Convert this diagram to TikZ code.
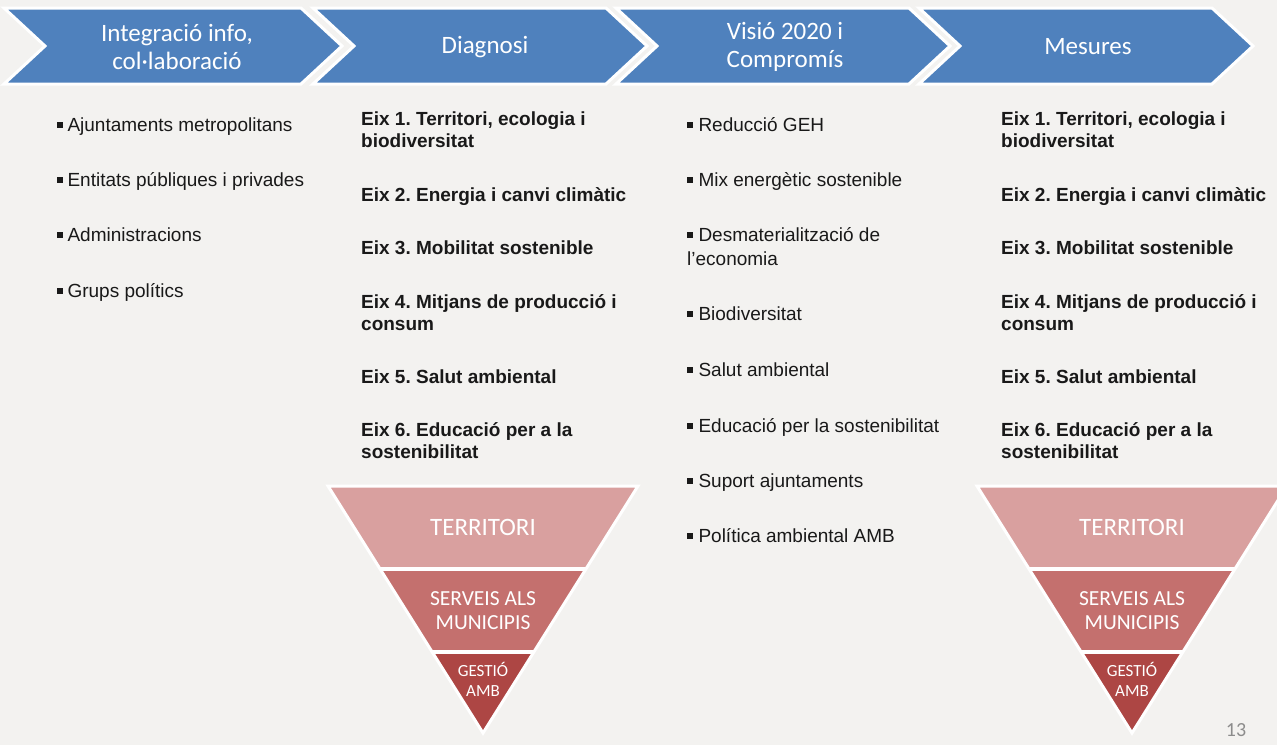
\documentclass[tikz,border=0pt]{standalone}
\usepackage{fontspec}
\setmainfont{Liberation Sans}
\newfontfamily\calfont{Carlito}
\definecolor{bg}{HTML}{F3F2F0}
\definecolor{chev}{HTML}{4F81BD}
\definecolor{tA}{HTML}{D9A09F}
\definecolor{tB}{HTML}{C4706E}
\definecolor{tC}{HTML}{AD4644}
\definecolor{pnum}{HTML}{8C8C8C}
\newcommand\sqb{\rule[0.17em]{0.28em}{0.28em}}
\frenchspacing
\begin{document}
\begin{tikzpicture}[x=1pt,y=-1pt,
  chevshape/.style={fill=chev,draw=white,line width=3pt,line join=miter},
  chevtext/.style={text=white,font=\calfont\fontsize{25}{28}\selectfont,align=center,inner sep=0pt},
  itemtext/.style={anchor=base west,inner sep=0pt,font=\fontsize{19}{22}\selectfont,text=black!90},
  eixtext/.style={anchor=base west,inner sep=0pt,font=\bfseries\fontsize{19}{22}\selectfont,text=black!90},
  tritext/.style={text=white,align=center,inner sep=0pt},
  sep/.style={draw=white,line width=3.5pt}]
\useasboundingbox (0,0) rectangle (1277,745);
\fill[bg] (0,0) rectangle (1277,745);
\clip (0,0) rectangle (1277,745);
% chevrons
\foreach \L/\W in {4/297,313/293,616/293,919/293}{
  \draw[chevshape] (\L,8) -- ({\L+\W},8) -- ({\L+\W+41},46) -- ({\L+\W},84) -- (\L,84) -- ({\L+41},46) -- cycle;
}
\node[chevtext] (c1) at (177,47) {Integració info,\\col·laboració};
\node[chevtext] (c2) at (485,47) {Diagnosi};
\node[chevtext] (c3) at (785,47) {Visió 2020 i\\Compromís};
\node[chevtext] (c4) at (1088,47) {Mesures};
% column 1
\node[itemtext] (a1) at (57,131) {\sqb\hspace{5pt}Ajuntaments metropolitans};
\node[itemtext] (a2) at (57,186) {\sqb\hspace{5pt}Entitats públiques i privades};
\node[itemtext] (a3) at (57,241) {\sqb\hspace{5pt}Administracions};
\node[itemtext] (a4) at (57,297) {\sqb\hspace{5pt}Grups polítics};
% column 2 and 4
\foreach \X/\P in {361/b,1001/d}{
  \node[eixtext] (\P1) at (\X,125) {Eix 1. Territori, ecologia i};
  \node[eixtext] (\P1b) at (\X,147) {biodiversitat};
  \node[eixtext] (\P2) at (\X,201) {Eix 2. Energia i canvi climàtic};
  \node[eixtext] (\P3) at (\X,254) {Eix 3. Mobilitat sostenible};
  \node[eixtext] (\P4) at (\X,308) {Eix 4. Mitjans de producció i};
  \node[eixtext] (\P4b) at (\X,330) {consum};
  \node[eixtext] (\P5) at (\X,383) {Eix 5. Salut ambiental};
  \node[eixtext] (\P6) at (\X,436) {Eix 6. Educació per a la};
  \node[eixtext] (\P6b) at (\X,458) {sostenibilitat};
}
% column 3
\node[itemtext] (e1) at (687,131) {\sqb\hspace{6pt}Reducció GEH};
\node[itemtext] (e2) at (687,186) {\sqb\hspace{6pt}Mix energètic sostenible};
\node[itemtext] (e3) at (687,241) {\sqb\hspace{6pt}Desmaterialització de};
\node[itemtext] (e3b) at (687,265) {l’economia};
\node[itemtext] (e4) at (687,320) {\sqb\hspace{6pt}Biodiversitat};
\node[itemtext] (e5) at (687,376) {\sqb\hspace{6pt}Salut ambiental};
\node[itemtext] (e6) at (687,432) {\sqb\hspace{6pt}Educació per la sostenibilitat};
\node[itemtext] (e7) at (687,487) {\sqb\hspace{6pt}Suport ajuntaments};
\node[itemtext] (e8) at (687,542) {\sqb\hspace{6pt}Política ambiental AMB};
% triangles
\foreach \C/\P in {483/l,1132/r}{
  \begin{scope}
    \clip ({\C-155},486) -- ({\C+155},486) -- (\C,733) -- cycle;
    \fill[tA] ({\C-160},480) rectangle ({\C+160},569);
    \fill[tB] ({\C-160},569) rectangle ({\C+160},652);
    \fill[tC] ({\C-160},652) rectangle ({\C+160},740);
    \draw[sep] ({\C-160},569) -- ({\C+160},569);
    \draw[sep] ({\C-160},652) -- ({\C+160},652);
  \end{scope}
  \draw[draw=white,line width=3pt,line join=miter] ({\C-155},486) -- ({\C+155},486) -- (\C,733) -- cycle;
  \node[tritext,font=\calfont\fontsize{25}{28}\selectfont] (\P t) at (\C,527) {TERRITORI};
  \node[tritext,font=\calfont\fontsize{21.5}{24}\selectfont] (\P s) at (\C,611) {SERVEIS ALS\\MUNICIPIS};
  \node[tritext,font=\calfont\fontsize{17}{20}\selectfont] (\P g) at (\C,679) {GESTIÓ\\AMB};
}
\node[text=pnum,font=\calfont\fontsize{20}{24}\selectfont,inner sep=0pt] (pn) at (1236,730) {13};
\end{tikzpicture}
\end{document}
